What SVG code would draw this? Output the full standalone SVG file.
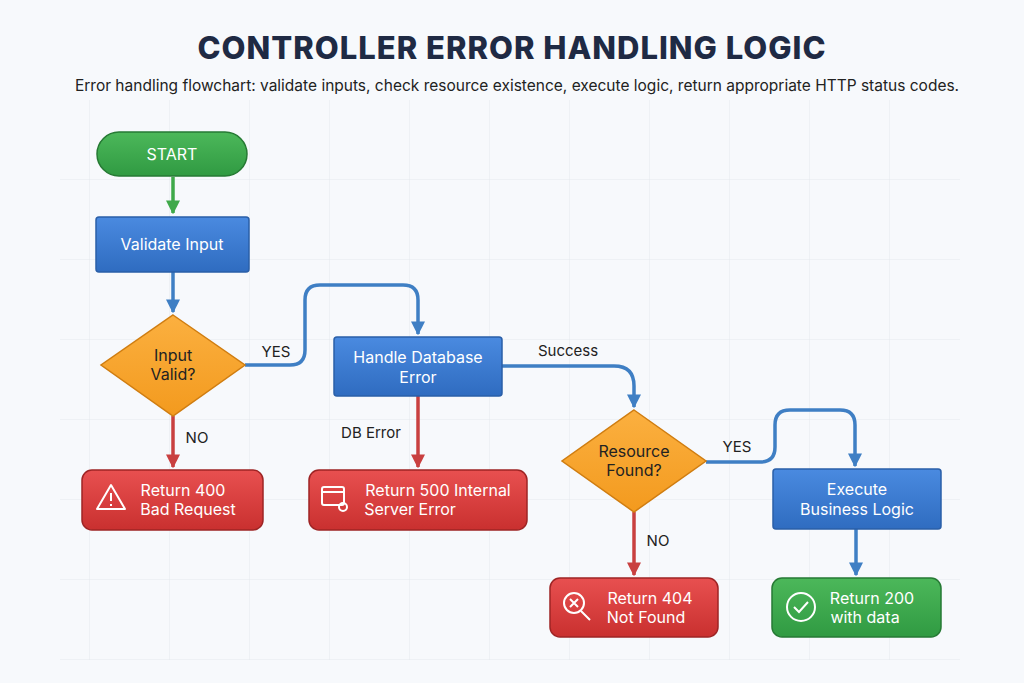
<svg xmlns="http://www.w3.org/2000/svg" width="1024" height="683" viewBox="0 0 1024 683">
<defs>
<pattern id="grid" width="80" height="80" patternUnits="userSpaceOnUse" x="10" y="20"><path d="M80 0V80M0 80H80" fill="none" stroke="#e4e8ee" stroke-width="1"/></pattern>
<linearGradient id="gb" x1="0" y1="0" x2="0" y2="1"><stop offset="0" stop-color="#4a8ae0"/><stop offset="1" stop-color="#2f6cc0"/></linearGradient>
<linearGradient id="gr" x1="0" y1="0" x2="0" y2="1"><stop offset="0" stop-color="#e85050"/><stop offset="1" stop-color="#c9302f"/></linearGradient>
<linearGradient id="gg" x1="0" y1="0" x2="0" y2="1"><stop offset="0" stop-color="#4cb85a"/><stop offset="1" stop-color="#309a42"/></linearGradient>
<linearGradient id="go" x1="0" y1="0" x2="0" y2="1"><stop offset="0" stop-color="#fbb040"/><stop offset="1" stop-color="#f39a1e"/></linearGradient>
<marker id="ab" viewBox="0 0 10 10" refX="9" refY="5" markerWidth="4" markerHeight="4" orient="auto"><path d="M0 0L10 5L0 10z" fill="#3f7fc4"/></marker>
<marker id="ar" viewBox="0 0 10 10" refX="9" refY="5" markerWidth="4" markerHeight="4" orient="auto"><path d="M0 0L10 5L0 10z" fill="#c94040"/></marker>
<marker id="ag" viewBox="0 0 10 10" refX="9" refY="5" markerWidth="4" markerHeight="4" orient="auto"><path d="M0 0L10 5L0 10z" fill="#3fa94a"/></marker>
</defs>
<style>
text{font-family:"Inter","Liberation Sans",sans-serif}
.t{fill:#fff;font-size:16px;text-anchor:middle}
.d{fill:#222;font-size:16px;text-anchor:middle}
.l{fill:#222;font-size:15px;text-anchor:middle}
.b{stroke:#2a5fa8;stroke-width:1.5;fill:url(#gb)}
.r{stroke:#9e2424;stroke-width:1.5;fill:url(#gr)}
.g{stroke:#267a34;stroke-width:1.5;fill:url(#gg)}
.o{stroke:#d07d10;stroke-width:1.5;fill:url(#go)}
.cb{fill:none;stroke:#3f7fc4;stroke-width:3.5;marker-end:url(#ab)}
.cr{fill:none;stroke:#c94040;stroke-width:3.5;marker-end:url(#ar)}
.ic{fill:none;stroke:#fff;stroke-width:2}
</style>
<rect width="1024" height="683" fill="#f7f9fc"/>
<rect x="60" y="100" width="900" height="560" fill="url(#grid)"/>
<text x="512" y="59" style="font-size:31px;font-weight:800;fill:#1f2a44;text-anchor:middle;letter-spacing:1px">CONTROLLER ERROR HANDLING LOGIC</text>
<text x="517" y="91" style="font-size:15.5px;fill:#222;text-anchor:middle">Error handling flowchart: validate inputs, check resource existence, execute logic, return appropriate HTTP status codes.</text>
<g id="connectors">
<path d="M173 177V213" fill="none" stroke="#3fa94a" stroke-width="3.5" marker-end="url(#ag)"/>
<path class="cb" d="M173 272V312"/>
<path class="cb" d="M245 365H290Q305 365 305 350V300Q305 285 320 285H403Q418 285 418 300V334"/>
<path class="cr" d="M173 416V467"/>
<path class="cr" d="M418 396V467"/>
<path class="cb" d="M502 366H614Q634 366 634 386V407"/>
<path class="cb" d="M706 462H760Q775 462 775 447V425Q775 410 790 410H840Q855 410 855 425V466"/>
<path class="cr" d="M634 512V575"/>
<path class="cb" d="M856 529V575"/>
<text class="l" x="276" y="357">YES</text>
<text class="l" x="197" y="443">NO</text>
<text class="l" x="371" y="438">DB Error</text>
<text class="l" x="568" y="356">Success</text>
<text class="l" x="737" y="452">YES</text>
<text class="l" x="658" y="546">NO</text>
</g>
<g id="start"><rect class="g" x="97" y="132" width="150" height="44" rx="22"/><text class="t" x="172" y="160">START</text></g>
<g id="validate"><rect class="b" x="96" y="217" width="153" height="55" rx="3"/><text class="t" x="172" y="250">Validate Input</text></g>
<g id="inputValid"><path class="o" d="M173 315L245 365L173 416L101 365Z"/><text class="d" x="173" y="361">Input</text><text class="d" x="173" y="380">Valid?</text></g>
<g id="r400"><rect class="r" x="82" y="470" width="181" height="60" rx="10"/>
<path class="ic" d="M111 485L125 509H97Z" stroke-linejoin="round"/><path class="ic" d="M111 493V501M111 504V506"/>
<text class="t" x="183" y="496">Return 400</text><text class="t" x="188" y="515">Bad Request</text></g>
<g id="dbError"><rect class="b" x="334" y="337" width="168" height="59" rx="3"/><text class="t" x="418" y="363">Handle Database</text><text class="t" x="418" y="383">Error</text></g>
<g id="r500"><rect class="r" x="309" y="470" width="218" height="60" rx="10"/>
<rect class="ic" x="322" y="487" width="22" height="18" rx="2" stroke-width="1.6"/><path class="ic" d="M322 492H344" stroke-width="1.6"/><circle class="ic" cx="343" cy="507" r="4" stroke-width="1.6"/>
<text class="t" x="438" y="496">Return 500 Internal</text><text class="t" x="410" y="515">Server Error</text></g>
<g id="found"><path class="o" d="M634 410L706 461L634 512L562 461Z"/><text class="d" x="634" y="457">Resource</text><text class="d" x="634" y="476">Found?</text></g>
<g id="exec"><rect class="b" x="773" y="469" width="168" height="60" rx="3"/><text class="t" x="857" y="495">Execute</text><text class="t" x="857" y="515">Business Logic</text></g>
<g id="r404"><rect class="r" x="550" y="578" width="168" height="59" rx="10"/>
<circle class="ic" cx="574" cy="603" r="10"/><path class="ic" d="M570 599L578 607M578 599L570 607M581 611L590 620"/>
<text class="t" x="650" y="604">Return 404</text><text class="t" x="646" y="623">Not Found</text></g>
<g id="r200"><rect class="g" x="772" y="578" width="169" height="59" rx="10"/>
<circle class="ic" cx="801" cy="607" r="14"/><path class="ic" d="M794 607L799 612L808 602"/>
<text class="t" x="872" y="604">Return 200</text><text class="t" x="865" y="623">with data</text></g>
</svg>
